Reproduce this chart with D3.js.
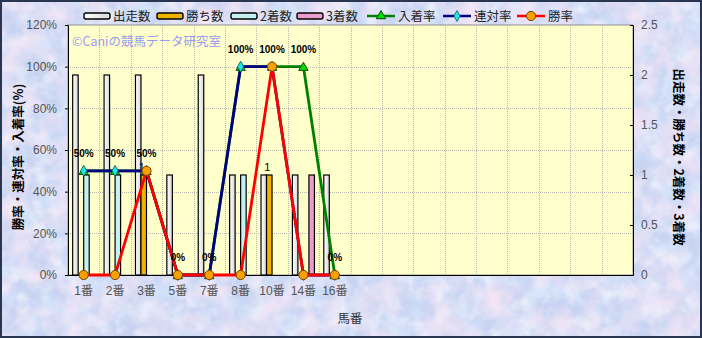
<!DOCTYPE html>
<html><head><meta charset="utf-8">
<script src="https://cdn.jsdelivr.net/npm/d3@7"></script>
<style>html,body{margin:0;padding:0;background:#fff;}svg{display:block;}</style>
</head><body>
<script>
// ---- data ----
const categories = ["1番","2番","3番","5番","7番","8番","10番","14番","16番","","","","","","","","",""];
const runs    = [2,2,2,1,2,1,1,1,1];
const wins    = [0,0,1,0,0,0,1,0,0];
const seconds = [1,1,0,0,0,1,0,0,0];
const thirds  = [0,0,0,0,0,0,0,1,0];
const winRate     = [0,0,50,0,0,0,100,0,0];
const rentaiRate  = [50,50,50,0,0,100,100,0,0];
const placeRate   = [50,50,50,0,0,100,100,100,0];
const leftTicks  = [0,20,40,60,80,100,120];
const rightTicks = [0,0.5,1,1.5,2,2.5];
const barNames = ["出走数","勝ち数","2着数","3着数"];
const lineNames = ["入着率","連対率","勝率"];

const W=702,H=338;
const FONT = '"Liberation Sans","Noto Sans CJK JP",sans-serif';
const JFONT = '"Noto Sans CJK JP","Liberation Sans",sans-serif';
const svg=d3.select("body").append("svg").attr("width",W).attr("height",H);
const defs=svg.append("defs");
const f=defs.append("filter").attr("id","tex").attr("x",0).attr("y",0).attr("width",1).attr("height",1);
f.append("feTurbulence").attr("type","fractalNoise").attr("baseFrequency","0.035").attr("numOctaves",4).attr("seed",7);
f.append("feColorMatrix").attr("type","matrix").attr("values","0 0 0 0 0.94  0 0 0 0 0.78  0 0 0 0 0.92  1.8 0 0 0 -0.68");
const f2=defs.append("filter").attr("id","tex2").attr("x",0).attr("y",0).attr("width",1).attr("height",1);
f2.append("feTurbulence").attr("type","fractalNoise").attr("baseFrequency","0.05").attr("numOctaves",3).attr("seed",21);
f2.append("feColorMatrix").attr("type","matrix").attr("values","0 0 0 0 0.70  0 0 0 0 0.83  0 0 0 0 0.98  0 1.6 0 0 -0.62");
const f3=defs.append("filter").attr("id","tex3").attr("x",0).attr("y",0).attr("width",1).attr("height",1);
f3.append("feTurbulence").attr("type","fractalNoise").attr("baseFrequency","0.06").attr("numOctaves",3).attr("seed",44);
f3.append("feColorMatrix").attr("type","matrix").attr("values","0 0 0 0 0.95  0 0 0 0 0.96  0 0 0 0 1  0 0 1.6 0 -0.7");
const g1=defs.append("linearGradient").attr("id","runGrad").attr("x1",0).attr("x2",1);
g1.append("stop").attr("offset","0%").attr("stop-color","#ffffff");
g1.append("stop").attr("offset","100%").attr("stop-color","#d8d8d8");

svg.append("rect").attr("width",W).attr("height",H).attr("fill","#c8d4f2");
svg.append("rect").attr("width",W).attr("height",H).attr("filter","url(#tex2)");
svg.append("rect").attr("width",W).attr("height",H).attr("filter","url(#tex3)");
svg.append("rect").attr("width",W).attr("height",H).attr("filter","url(#tex)");
svg.append("rect").attr("x",1).attr("y",1).attr("width",W-2).attr("height",H-2).attr("fill","none").attr("stroke","#2a3550").attr("stroke-width",2);

const L=68,R=633,T=25,B=275;
const x=d3.scaleBand().domain(d3.range(categories.length)).range([L,R]).padding(0);
const xb=d3.scaleBand().domain(d3.range(4)).range([0,x.bandwidth()]).paddingInner(0).paddingOuter(0.85);
const yL=d3.scaleLinear().domain([0,120]).range([B,T]);
const yR=d3.scaleLinear().domain([0,2.5]).range([B,T]);

svg.append("rect").attr("x",L).attr("y",T).attr("width",R-L).attr("height",B-T).attr("fill","#ffffcc").attr("stroke","#909090");
// grid
const grid=svg.append("g").attr("stroke","#b8b8b0").attr("stroke-dasharray","1,1").attr("stroke-width",1);
grid.selectAll("line.v").data(d3.range(1,categories.length)).join("line")
  .attr("x1",d=>Math.round(x(d))+0.5).attr("x2",d=>Math.round(x(d))+0.5).attr("y1",T).attr("y2",B);
grid.selectAll("line.h").data(leftTicks.filter(d=>d>0&&d<120)).join("line")
  .attr("x1",L).attr("x2",R).attr("y1",d=>Math.round(yL(d))+0.5).attr("y2",d=>Math.round(yL(d))+0.5);

// axes
const axL=svg.append("g").attr("transform",`translate(${L},0)`).call(d3.axisLeft(yL).tickValues(leftTicks).tickFormat(d=>d+"%").tickSize(3).tickPadding(8));
const axR=svg.append("g").attr("transform",`translate(${R},0)`).call(d3.axisRight(yR).tickValues(rightTicks).tickFormat(d=>String(d)).tickSizeInner(-3).tickSizeOuter(0).tickPadding(8));
const axB=svg.append("g").attr("transform",`translate(0,${B})`).call(d3.axisBottom(x).tickFormat(i=>categories[i]).tickSize(0).tickPadding(11));
[axL,axR,axB].forEach(a=>{a.selectAll("path").attr("stroke","#000");a.selectAll("line").attr("stroke","#000");
  a.selectAll("text").attr("font-family",FONT).attr("font-size",12).attr("fill","#555");});
axB.select(".domain").attr("stroke","#000");

// bars
const barSeries=[runs,wins,seconds,thirds];
const barFill=["url(#runGrad)","#f0b400","#c4f2f2","#ec9ccc"];
barSeries.forEach((arr,k)=>{
  svg.append("g").selectAll("rect").data(arr.map((v,i)=>({v,i})).filter(d=>d.v>0)).join("rect")
    .attr("x",d=>x(d.i)+xb(k)).attr("width",xb.bandwidth())
    .attr("y",d=>yR(d.v)).attr("height",d=>yR(0)-yR(d.v))
    .attr("fill",barFill[k]).attr("stroke","#000").attr("stroke-width",1.2);
});
// wins labels
svg.append("g").selectAll("text").data(wins.map((v,i)=>({v,i})).filter(d=>d.v>0)).join("text")
  .attr("x",d=>x(d.i)+xb(1)+xb.bandwidth()/2-2).attr("y",d=>yR(d.v)-4).attr("text-anchor","middle")
  .attr("font-family",FONT).attr("font-size",11).attr("fill","#000").text(d=>d.v);

// lines
const lineSeries=[placeRate,rentaiRate,winRate];
const lineCol=["#008000","#000080","#ff0000"];
const lineGen=d3.line().x((d,i)=>x(i)+x.bandwidth()/2).y(d=>yL(d));
function marker(sel,k){
  if(k===0){sel.append("path").attr("d",d3.symbol(d3.symbolTriangle,38)()).attr("fill","#00dd00").attr("stroke","#005000").attr("stroke-width",1);}
  else if(k===1){sel.append("path").attr("d",d3.symbol(d3.symbolDiamond,34)()).attr("fill","#20e8e8").attr("stroke","#006060").attr("stroke-width",0.8);}
  else {sel.append("circle").attr("r",4.6).attr("fill","#f8a000").attr("stroke","#7a4000").attr("stroke-width",1);}
}
lineSeries.forEach((arr,k)=>{
  svg.append("path").datum(arr).attr("d",lineGen).attr("fill","none").attr("stroke",lineCol[k]).attr("stroke-width",2.8);
  arr.forEach((v,i)=>{
    const g=svg.append("g").attr("transform",`translate(${x(i)+x.bandwidth()/2},${yL(v)+(k===0?1:0)})`);
    marker(g,k);
  });
});
// place rate labels
svg.append("g").selectAll("text").data(placeRate).join("text")
  .attr("x",(d,i)=>x(i)+x.bandwidth()/2).attr("y",d=>yL(d)-14).attr("text-anchor","middle")
  .attr("font-family",FONT).attr("font-size",10).attr("font-weight","bold").attr("fill","#000").text(d=>d+"%");

// watermark
svg.append("text").attr("x",72).attr("y",46).attr("font-family",JFONT).attr("font-size",12.5).attr("fill","#9a9af0").text("©Caniの競馬データ研究室");

// axis titles
svg.append("text").attr("transform","translate(23,157) rotate(-90)").attr("text-anchor","middle")
  .attr("font-family",JFONT).attr("font-size",12.5).attr("font-weight","bold").attr("fill","#000").text("勝率・連対率・入着率(%)");
svg.append("text").attr("transform","translate(674,157) rotate(90)").attr("text-anchor","middle")
  .attr("font-family",JFONT).attr("font-size",12.5).attr("font-weight","bold").attr("fill","#000").text("出走数・勝ち数・2着数・3着数");
svg.append("text").attr("x",350).attr("y",323).attr("text-anchor","middle")
  .attr("font-family",JFONT).attr("font-size",12.5).attr("fill","#333").text("馬番");

// legend
const legX=[84,157,231,297,367,443,517];
const lg=svg.append("g");
barNames.forEach((n,k)=>{
  lg.append("rect").attr("x",legX[k]).attr("y",13).attr("width",26).attr("height",6).attr("rx",2)
    .attr("fill",barFill[k]).attr("stroke","#000").attr("stroke-width",1.4);
  lg.append("text").attr("x",legX[k]+29).attr("y",21).attr("font-family",JFONT).attr("font-size",12.5).attr("fill","#222").text(n);
});
lineNames.forEach((n,k)=>{
  const x0=legX[4+k];
  lg.append("line").attr("x1",x0).attr("x2",x0+28).attr("y1",16).attr("y2",16).attr("stroke",lineCol[k]).attr("stroke-width",2.5);
  marker(lg.append("g").attr("transform",`translate(${x0+14},16)`),k);
  lg.append("text").attr("x",x0+31).attr("y",21).attr("font-family",JFONT).attr("font-size",12.5).attr("fill","#222").text(n);
});
</script>
</body></html>
